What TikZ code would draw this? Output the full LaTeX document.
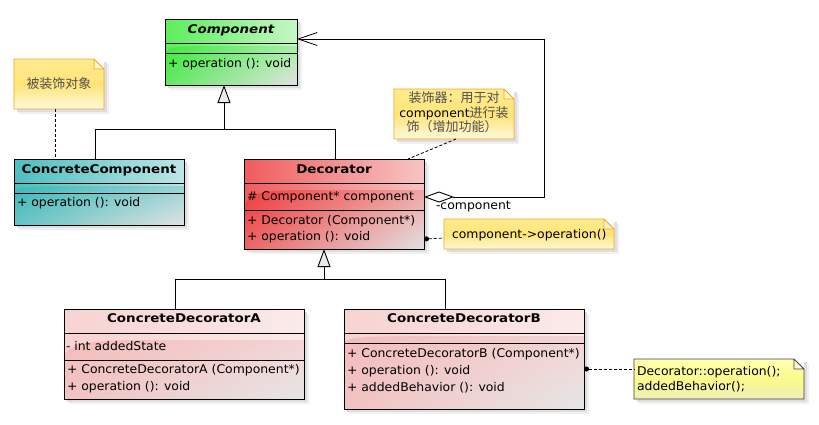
\documentclass[tikz,border=0pt]{standalone}
\usepackage{fontspec}
\setmainfont{DejaVu Sans}[FakeStretch=1.035]
\newfontfamily\titlef{DejaVu Sans}[FakeStretch=1.12]
\newfontfamily\cjk{Noto Sans CJK SC}
\usetikzlibrary{arrows.meta,calc,shadings}
% class colours: L/R header gradient, a/b/c/d lower gloss corners
\definecolor{gL}{HTML}{5CEE5C}\definecolor{gR}{HTML}{C4F7C4}
\definecolor{ga}{HTML}{3CEA3C}\definecolor{gb}{HTML}{A8F0A8}\definecolor{gc}{HTML}{66E866}\definecolor{gd}{HTML}{E2E2E2}
\definecolor{rL}{HTML}{F05C5C}\definecolor{rR}{HTML}{F8C4C4}
\definecolor{ra}{HTML}{F03C3C}\definecolor{rb}{HTML}{F0A4A4}\definecolor{rc}{HTML}{EC6666}\definecolor{rd}{HTML}{E2E2E2}
\definecolor{tL}{HTML}{4CBFC0}\definecolor{tR}{HTML}{BCE6E6}
\definecolor{ta}{HTML}{3CB8B8}\definecolor{tb}{HTML}{98D4D4}\definecolor{tc}{HTML}{66C4C4}\definecolor{td}{HTML}{E2E2E2}
\definecolor{pL}{HTML}{F8D2D2}\definecolor{pR}{HTML}{FBEAEA}
\definecolor{pa}{HTML}{F4BCBC}\definecolor{pb}{HTML}{F4D4D4}\definecolor{pc}{HTML}{F2C2C2}\definecolor{pd}{HTML}{E6E6E6}
% note colours
\definecolor{oT}{HTML}{FFEC90}\definecolor{oM}{HTML}{FFE478}\definecolor{oB}{HTML}{FFF9DA}\definecolor{oD}{HTML}{F2A52A}\definecolor{oF}{HTML}{FFF4C4}
\definecolor{yT}{HTML}{FFFFB4}\definecolor{yM}{HTML}{FAFA8C}\definecolor{yB}{HTML}{EEEEB8}\definecolor{yD}{HTML}{404040}\definecolor{yF}{HTML}{FFFFD8}
\definecolor{cjkgray}{HTML}{505050}
\tikzset{
  every node/.style={font=\fontsize{12}{15}\selectfont, inner sep=0pt, outer sep=0pt},
  boxline/.style={line width=1pt, draw=black},
  txt/.style={anchor=base west},
  ttl/.style={anchor=base, font=\fontsize{12}{15}\selectfont\titlef\bfseries},
  link/.style={line width=0.9pt},
  notelink/.style={line width=0.8pt, dash pattern=on 3pt off 2pt},
  cjktext/.style={text=cjkgray, font=\fontsize{13}{15}\selectfont\cjk},
}
% name, x0, y0, x1, y1, line1, line2, gloss y, colour prefix
\newcommand{\umlbox}[9]{%
  \fill[black!6] (#2+5,#3+5) rectangle (#4+5,#5+5);
  \fill[black!13] (#2+3,#3+3) rectangle (#4+3,#5+3);
  \shade[left color=#9L, right color=#9R] (#2,#3) rectangle (#4,#5);
  \shade[shading=bilinear interpolation, upper left=#9a, upper right=#9b, lower left=#9c, lower right=#9d]
    (#2,#7) .. controls (#2,#8) and ({#2+0.15*(#4-#2)},#8) .. ({#2+0.4*(#4-#2)},#8)
    -- (#4,#8) -- (#4,#5) -- (#2,#5) -- cycle;
  \draw[boxline] (#2,#6) -- (#4,#6);
  \draw[boxline] (#2,#7) -- (#4,#7);
  \node[boxline, anchor=north west, minimum width={(#4-#2)*1pt}, minimum height={(#5-#3)*1pt}] (#1) at (#2,#3) {};
}
% name, x0, y0, x1, y1, colour prefix
\newcommand{\notebox}[6]{%
  \fill[black!6] (#2+5,#3+5) rectangle (#4+5,#5+5);
  \fill[black!13] (#2+3,#3+3) rectangle (#4+3,#5+3);
  \fill[white] (#4-10,#3) -- (#4,#3+10) -- (#4,#3) -- cycle;
  \shade[top color=#6T, bottom color=#6B, middle color=#6M]
    (#2,#3) -- (#4-10,#3) -- (#4,#3+10) -- (#4,#5) -- (#2,#5) -- cycle;
  \fill[#6F] (#4-10,#3) -- (#4-10,#3+10) -- (#4,#3+10) -- cycle;
  \draw[line width=0.9pt, draw=#6D, line join=miter]
    (#2,#3) -- (#4-10,#3) -- (#4,#3+10) -- (#4,#5) -- (#2,#5) -- cycle
    (#4-10,#3) -- (#4-10,#3+10) -- (#4,#3+10);
  \node[anchor=north west, minimum width={(#4-#2)*1pt}, minimum height={(#5-#3)*1pt}] (#1) at (#2,#3) {};
}
\begin{document}
\begin{tikzpicture}[x=1pt, y=-1pt]
\useasboundingbox (0,0) rectangle (819,424);
\fill[white] (0,0) rectangle (819,424);

% ---------- classes ----------
\umlbox{comp}{165}{19}{297}{85}{43}{53}{46}{g}
\node[ttl, font=\fontsize{12}{15}\selectfont\titlef\bfseries\itshape] (compT) at (231,33) {Component};
\node[txt] (compO) at (168,67.5) {+ operation (): void};

\umlbox{cc}{14}{159}{184}{225}{183}{193}{186}{t}
\node[ttl] (ccT) at (99,173.3) {ConcreteComponent};
\node[txt] (ccO) at (17,206.7) {+ operation (): void};

\umlbox{dec}{244}{159}{424}{249}{183}{210}{190}{r}
\node[ttl] (decT) at (334,173.3) {Decorator};
\node[txt] (decA) at (247,200.7) {\# Component* component};
\node[txt] (decO1) at (247,224) {+ Decorator (Component*)};
\node[txt] (decO2) at (247,240.7) {+ operation (): void};

\umlbox{cda}{64}{309}{304}{399}{333}{360}{340}{p}
\node[ttl] (cdaT) at (184,322.3) {ConcreteDecoratorA};
\node[txt] (cdaA) at (66,350) {- int addedState};
\node[txt] (cdaO1) at (67,373.3) {+ ConcreteDecoratorA (Component*)};
\node[txt] (cdaO2) at (67,390.7) {+ operation (): void};

\umlbox{cdb}{344}{309}{584}{409}{333}{343}{336}{p}
\node[ttl] (cdbT) at (464,322.3) {ConcreteDecoratorB};
\node[txt] (cdbO1) at (347,357.7) {+ ConcreteDecoratorB (Component*)};
\node[txt] (cdbO2) at (347,374.3) {+ operation (): void};
\node[txt] (cdbO3) at (347,391.7) {+ addedBehavior (): void};

% ---------- notes ----------
\notebox{n1}{14}{59}{104}{109}{o}
\node[cjktext, anchor=base] (n1t) at (59,88) {被装饰对象};

\notebox{n2}{394}{89}{514}{139}{o}
\node[cjktext, anchor=base] (n2a) at (454,102.5) {装饰器：用于对};
\node[anchor=base] (n2b) at (454,117.3) {component{\cjk\fontsize{13}{15}\selectfont\color{cjkgray}进行装}};
\node[cjktext, anchor=base] (n2c) at (452,131) {饰（增加功能）};

\notebox{n3}{444}{219}{614}{249}{o}
\node[txt] (n3t) at (452,238.3) {component->operation()};

\notebox{n4}{634}{359}{804}{399}{y}
\node[txt] (n4a) at (637,375) {Decorator::operation();};
\node[txt] (n4b) at (637,390.7) {addedBehavior();};

% ---------- generalisations ----------
\coordinate (j1) at ($(comp.south west)+(59,44)$);
\coordinate (ccTop) at ($(cc.north west)+(81,0)$);
\coordinate (decTop) at ($(dec.north west)+(91,0)$);
\draw[link] (ccTop) |- (j1);
\draw[link] (decTop) |- (j1);
\draw[link, -{Triangle[open, length=18pt, width=13pt, fill=black!8]}] (j1) -- (j1 |- comp.south);

\coordinate (j2) at ($(dec.south west)+(80,30)$);
\coordinate (cdaTop) at ($(cda.north west)+(111,0)$);
\coordinate (cdbTop) at ($(cdb.north west)+(101,0)$);
\draw[link] (cdaTop) |- (j2);
\draw[link] (cdbTop) |- (j2);
\draw[link, -{Triangle[open, length=18pt, width=13pt, fill=black!8]}] (j2) -- (j2 |- dec.south);

% ---------- aggregation ----------
\coordinate (aggS) at ($(dec.north east)+(0,38)$);
\coordinate (aggE) at ($(comp.north east)+(0,20)$);
\coordinate (aggC) at (544,0);
\draw[link, {Diamond[open, length=30pt, width=11pt, fill=white]}-{Straight Barb[length=19pt, width=13pt, line width=0.8pt]}]
  (aggS) -- (aggS -| aggC) -- (aggE -| aggC) -- (aggE);
\node[txt] (aggL) at (436,209.3) {-component};

% ---------- note links ----------
\draw[notelink] ($(n1.south west)+(41,0)$) -- ($(cc.north west)+(41,0)$);
\draw[notelink] ($(n2.south west)+(62,0)$) -- ($(dec.north west)+(164,0)$);
\draw[notelink, {Circle[length=5pt]}-] ($(dec.south east)+(0,-10)$) -- ($(n3.west)+(0,4)$);
\draw[notelink, {Circle[length=5pt]}-] ($(cdb.north east)+(0,60)$) -- ($(n4.north west)+(0,10)$);
\end{tikzpicture}
\end{document}
